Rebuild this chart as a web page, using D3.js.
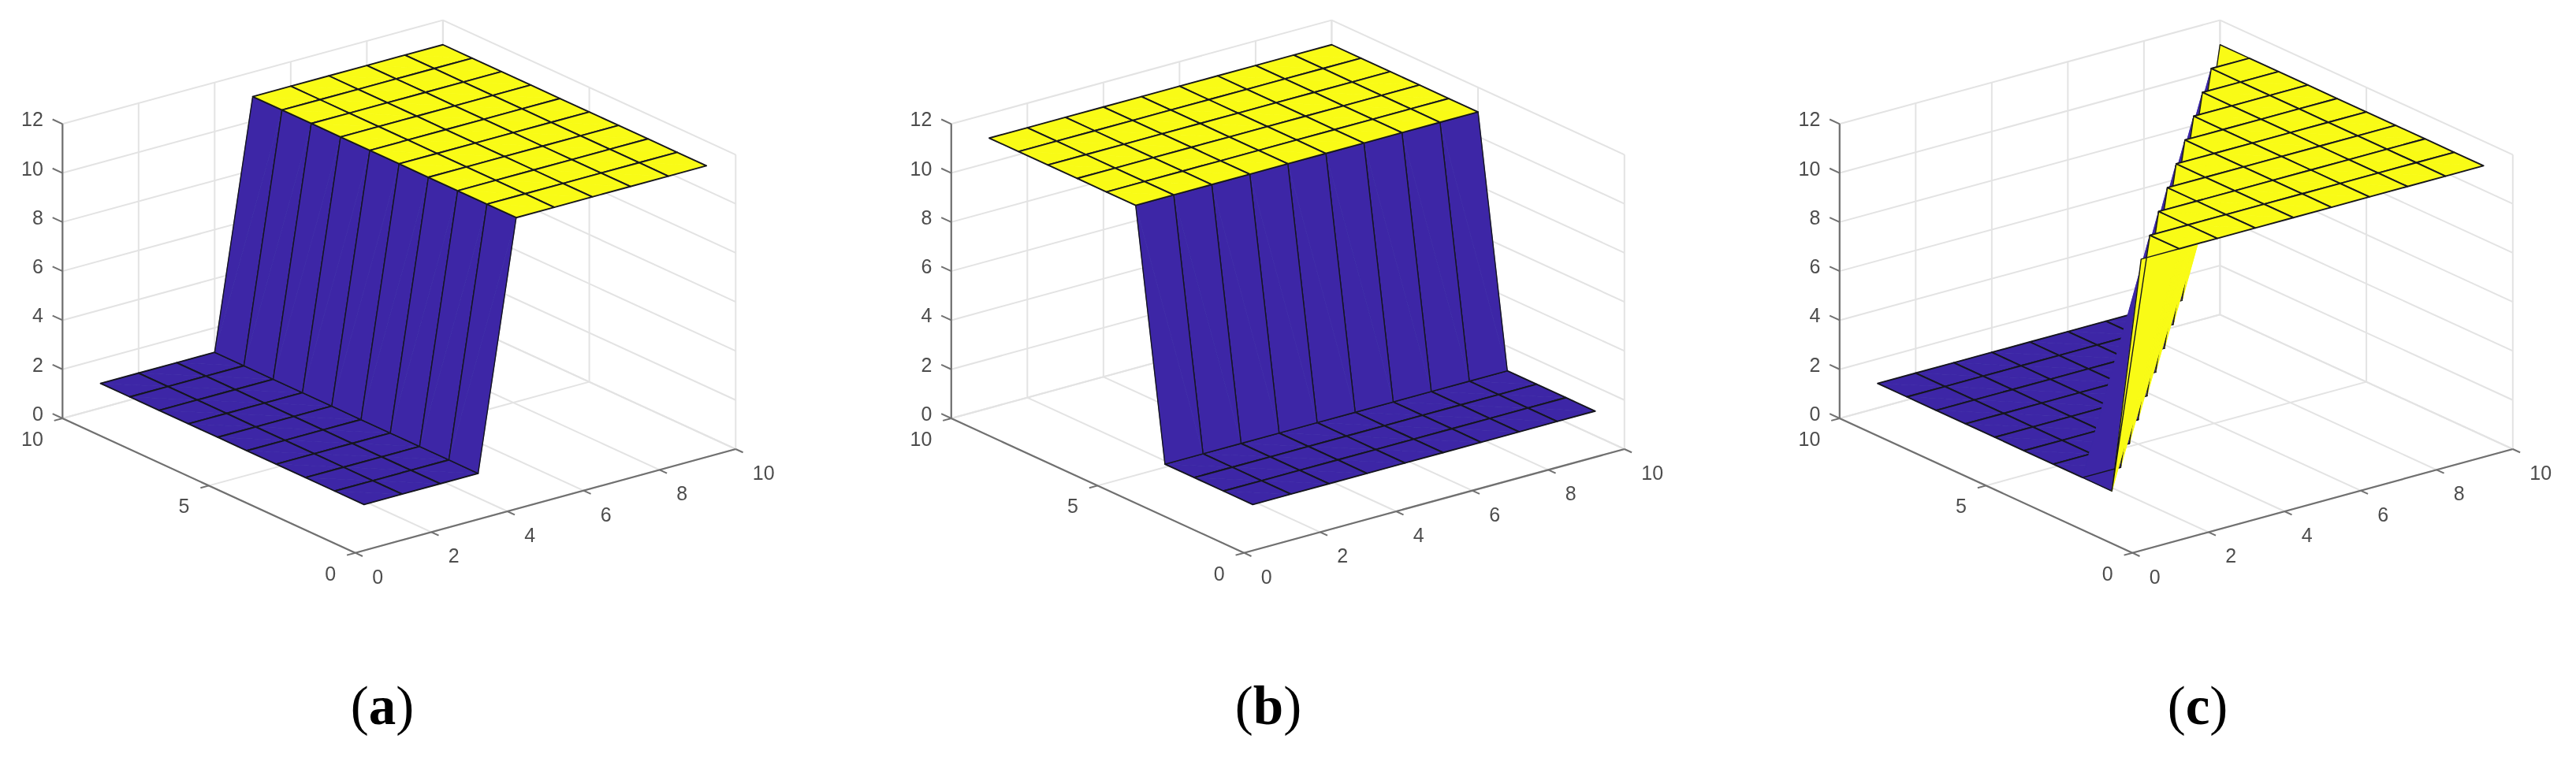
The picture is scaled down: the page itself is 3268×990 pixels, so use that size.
<!DOCTYPE html>
<html><head><meta charset="utf-8">
<script src="https://cdn.jsdelivr.net/npm/d3@7"></script>
<style>html,body{margin:0;padding:0;background:#fff}svg{display:block}</style>
</head><body><svg id="c" width="3268" height="990"></svg>
<script>
// ---- data ----
const xValues = [1,2,3,4,5,6,7,8,9,10];
const yValues = [1,2,3,4,5,6,7,8,9,10];
const surfaceA = [
 [1,1,1,1,11,11,11,11,11,11],[1,1,1,1,11,11,11,11,11,11],[1,1,1,1,11,11,11,11,11,11],
 [1,1,1,1,11,11,11,11,11,11],[1,1,1,1,11,11,11,11,11,11],[1,1,1,1,11,11,11,11,11,11],
 [1,1,1,1,11,11,11,11,11,11],[1,1,1,1,11,11,11,11,11,11],[1,1,1,1,11,11,11,11,11,11],
 [1,1,1,1,11,11,11,11,11,11]];
const surfaceB = [
 [1,1,1,1,1,1,1,1,1,1],[1,1,1,1,1,1,1,1,1,1],[1,1,1,1,1,1,1,1,1,1],[1,1,1,1,1,1,1,1,1,1],
 [11,11,11,11,11,11,11,11,11,11],[11,11,11,11,11,11,11,11,11,11],[11,11,11,11,11,11,11,11,11,11],
 [11,11,11,11,11,11,11,11,11,11],[11,11,11,11,11,11,11,11,11,11],[11,11,11,11,11,11,11,11,11,11]];
const surfaceC = [
 [11,11,11,11,11,11,11,11,11,11],[1,11,11,11,11,11,11,11,11,11],[1,1,11,11,11,11,11,11,11,11],
 [1,1,1,11,11,11,11,11,11,11],[1,1,1,1,11,11,11,11,11,11],[1,1,1,1,1,11,11,11,11,11],
 [1,1,1,1,1,1,11,11,11,11],[1,1,1,1,1,1,1,11,11,11],[1,1,1,1,1,1,1,1,11,11],
 [1,1,1,1,1,1,1,1,1,11]];
const xTicks = [0,2,4,6,8,10];
const yTicks = [0,5,10];
const zTicks = [0,2,4,6,8,10,12];
const captions = ["a","b","c"];

// ---- layout ----
const panelOffsets = [0,1127.5,2254.5];
const captionCentres = [485,1609,2788];
const captionBaseline = 919;
const originX = 450.7, originY = 701.7;
const low = "#3c27a6", high = "#f9fb15";

// projection: each data axis contributes a screen displacement
const xToSX = d3.scaleLinear().domain([0,10]).range([0,482.6]);
const xToSY = d3.scaleLinear().domain([0,10]).range([0,-131.7]);
const yToSX = d3.scaleLinear().domain([0,10]).range([0,-371.4]);
const yToSY = d3.scaleLinear().domain([0,10]).range([0,-170.7]);
const zToSY = d3.scaleLinear().domain([0,12]).range([0,-373.7]);
const colour = d3.scaleThreshold().domain([6]).range([low,high]);
const project = (x,y,z) => [originX+xToSX(x)+yToSX(y), originY+xToSY(x)+yToSY(y)+zToSY(z)];
const nearness = (x,y,z) => -1156*x-1503*y+1313*z;
const line = d3.line();

const svg = d3.select("#c");
const defs = svg.append("defs");
defs.append("filter").attr("id","soft").attr("x","-5%").attr("y","-5%").attr("width","110%").attr("height","110%")
  .append("feGaussianBlur").attr("stdDeviation",0.7);

function drawPanel(surface,i){
  const g = svg.append("g").attr("transform",`translate(${panelOffsets[i]},0)`).attr("filter","url(#soft)");
  const seg = (a,b,stroke,w) => g.append("path").attr("d",line([project(...a),project(...b)]))
     .attr("fill","none").attr("stroke",stroke).attr("stroke-width",w);
  const gridC = "#e3e3e3", axisC = "#707070";
  // grid on floor and back walls
  xTicks.forEach(t=>{ seg([t,0,0],[t,10,0],gridC,2); seg([t,10,0],[t,10,12],gridC,2); });
  yTicks.forEach(t=>{ seg([0,t,0],[10,t,0],gridC,2); seg([10,t,0],[10,t,12],gridC,2); });
  zTicks.forEach(t=>{ seg([0,10,t],[10,10,t],gridC,2); seg([10,0,t],[10,10,t],gridC,2); });
  // axes
  seg([0,0,0],[10,0,0],axisC,2.2);
  seg([0,0,0],[0,10,0],axisC,2.2);
  seg([0,10,0],[0,10,12],axisC,2.2);
  xTicks.forEach(t=>seg([t,0,0],[t,-0.25,0],axisC,2));
  yTicks.forEach(t=>seg([0,t,0],[-0.22,t,0],axisC,2));
  zTicks.forEach(t=>seg([0,10,t],[0,10.34,t],axisC,2));
  // tick labels
  const label = (txt,p,dx,dy,anchor) => g.append("text").text(txt)
     .attr("x",p[0]+dx).attr("y",p[1]+dy).attr("text-anchor",anchor)
     .attr("dominant-baseline","central")
     .attr("font-family","'Liberation Sans',Arial,sans-serif").attr("font-size",25).attr("fill","#4d4d4d");
  xTicks.forEach(t=>label(t,project(t,0,0),21.5,30,"start"));
  yTicks.forEach(t=>label(t,project(0,t,0),-24.5,26,"end"));
  zTicks.forEach(t=>label(t,project(0,10,t),-24.5,-6,"end"));
  // surface faces, far ones first; folded faces are filled as two triangles
  const faces = [];
  for(let r=0;r<yValues.length-1;r++) for(let c=0;c<xValues.length-1;c++){
    const corners = [[c,r],[c+1,r],[c+1,r+1],[c,r+1]].map(([a,b])=>[xValues[a],yValues[b],surface[b][a]]);
    faces.push({corners, value:surface[r][c],
      depth:d3.mean(corners,p=>nearness(...p))});
  }
  faces.sort((a,b)=>d3.ascending(a.depth,b.depth));
  faces.forEach(f=>{
    const pts = f.corners.map(p=>project(...p));
    const fill = colour(f.value);
    const flat = new Set(f.corners.map(p=>p[2])).size===1;
    [[pts[0],pts[1],pts[3]],[pts[1],pts[2],pts[3]]].forEach(tri=>{
      g.append("path").attr("d",line(tri)+"Z").attr("fill",fill).attr("stroke",fill).attr("stroke-width",0.8);
    });
    g.append("path").attr("d",line(pts)+"Z").attr("fill","none")
      .attr("stroke","#15151f").attr("stroke-width",flat?1.9:1.4).attr("stroke-linejoin","round");
  });
}
[surfaceA,surfaceB,surfaceC].forEach(drawPanel);

// captions
captions.forEach((c,i)=>{
  const t = svg.append("text").attr("x",captionCentres[i]).attr("y",captionBaseline)
    .attr("text-anchor","middle").attr("font-family","'Liberation Serif',serif").attr("font-size",69).attr("fill","#000");
  t.append("tspan").text("(");
  t.append("tspan").attr("font-weight","bold").text(c);
  t.append("tspan").text(")");
});
</script></body></html>
